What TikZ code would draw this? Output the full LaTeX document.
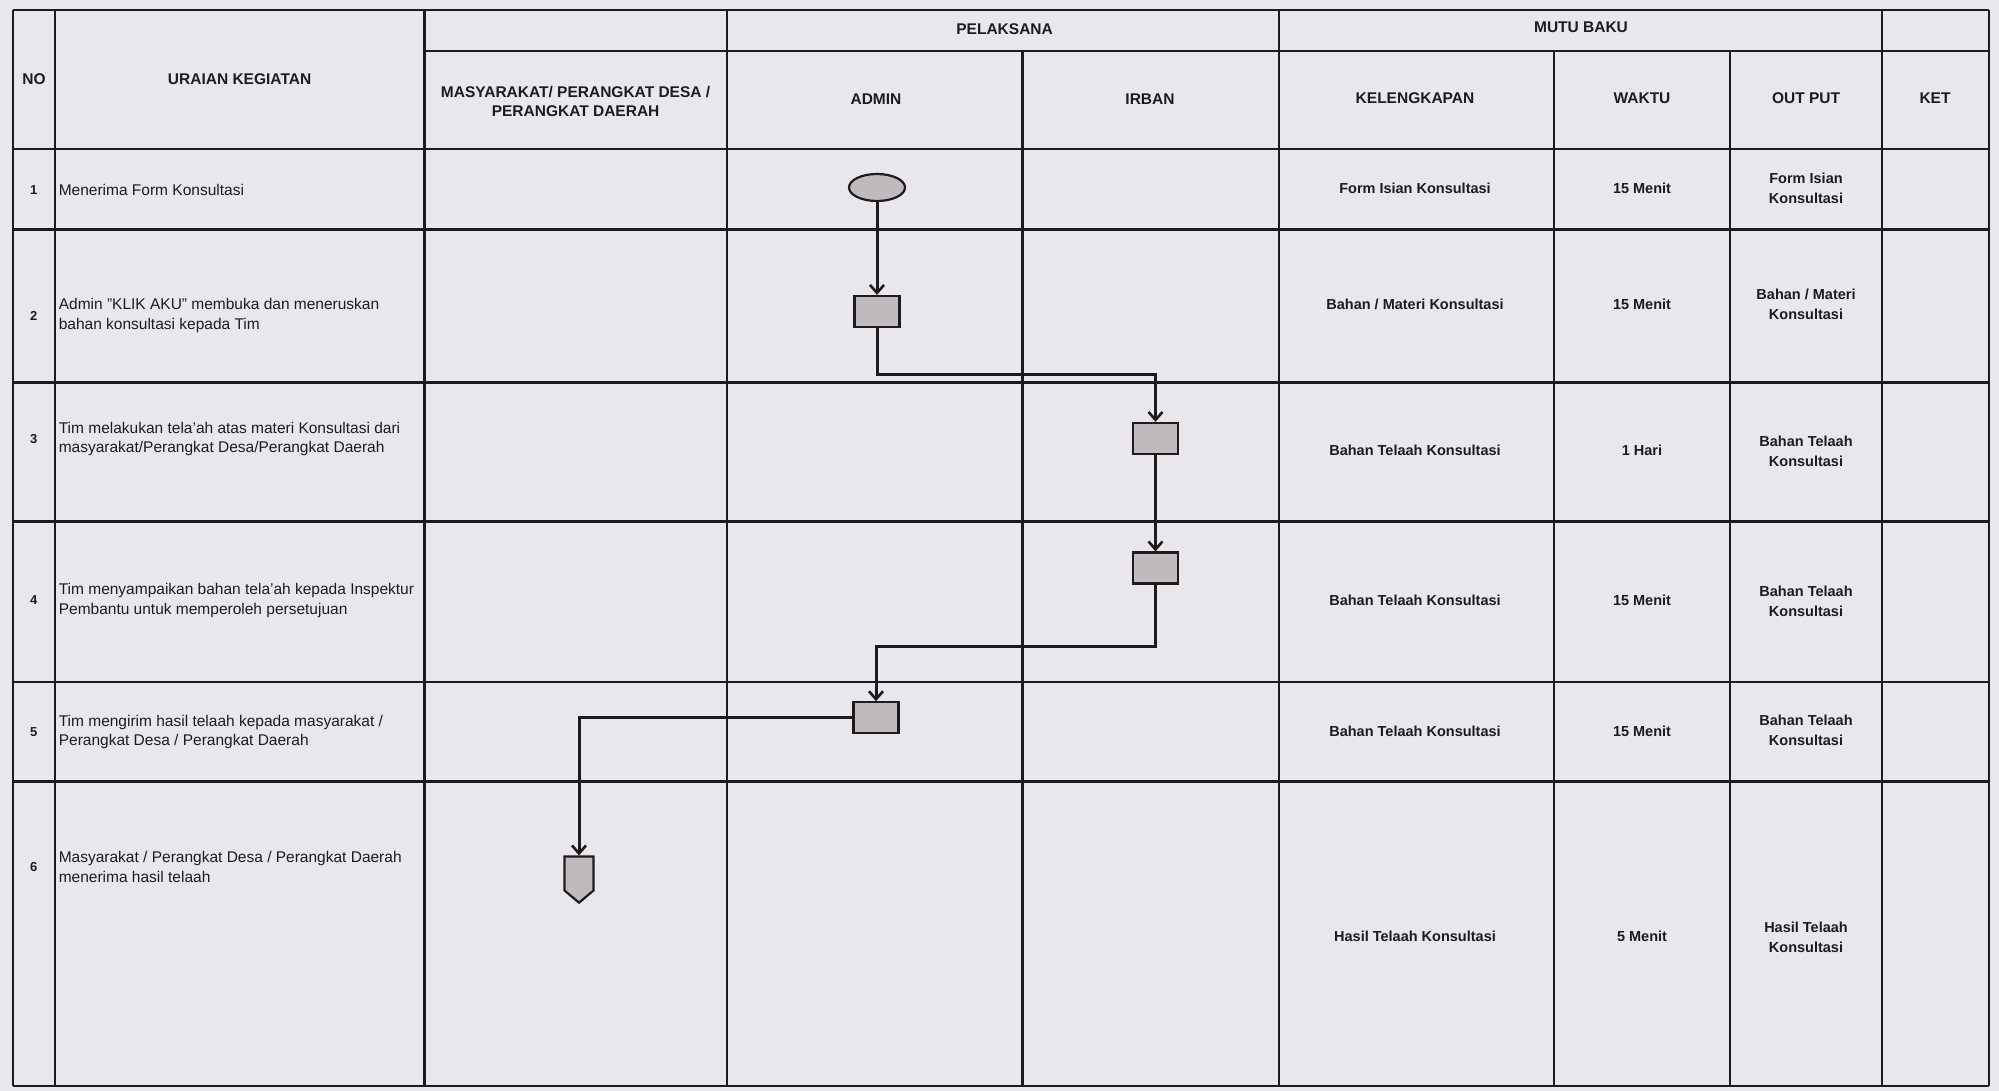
\documentclass[tikz,border=0pt]{standalone}
\usepackage{fontspec}
\setmainfont{Liberation Sans}
\usetikzlibrary{shapes.geometric,shapes.symbols,arrows.meta}
\definecolor{paper}{RGB}{234,231,236}
\definecolor{ink}{RGB}{28,28,30}
\definecolor{shapefill}{RGB}{192,186,190}
\begin{document}
\begin{tikzpicture}[x=1pt,y=-1pt,
  gridline/.style={draw=ink, line width=2.4pt},
  hdr/.style={font=\bfseries\fontsize{15.5}{19}\selectfont, align=center, text=ink, inner sep=0pt},
  val/.style={font=\bfseries\fontsize{14.5}{20}\selectfont, align=center, text=ink, inner sep=0pt},
  desc/.style={font=\fontsize{15.5}{19.5}\selectfont, align=left, anchor=west, text=ink, inner sep=0pt},
  num/.style={font=\bfseries\fontsize{13}{16}\selectfont, text=ink, inner sep=0pt},
  proc/.style={draw=ink, fill=shapefill, line width=2.2pt, minimum width=45pt, minimum height=31pt, inner sep=0pt},
  term/.style={ellipse, draw=ink, fill=shapefill, line width=2.2pt, minimum width=56pt, minimum height=27pt, inner sep=0pt},
  offpage/.style={signal, signal to=south, signal pointer angle=100, draw=ink, fill=shapefill, line width=2.2pt, minimum width=29pt, minimum height=34pt, inner sep=0pt},
  flow/.style={draw=ink, line width=3pt, -{Straight Barb[length=8pt,width=14pt,line width=2.6pt]}}
]
\fill[paper] (0,0) rectangle (1999,1091);
\useasboundingbox (0,0) rectangle (1999,1091);

% grid
\def\cA{12.7}\def\cB{54.8}\def\cC{424.5}\def\cD{726.7}\def\cE{1022.5}
\def\cF{1278.7}\def\cG{1554.1}\def\cH{1730}\def\cI{1881.7}\def\cJ{1988.8}
\def\rA{10.2}\def\rS{51}\def\rB{149.2}\def\rC{229.5}\def\rD{382.5}
\def\rE{521.4}\def\rF{682}\def\rG{781.5}\def\rH{1086.2}
\foreach \x in {\cA,\cB,\cC,\cD,\cF,\cI,\cJ}{\draw[gridline] (\x,\rA) -- (\x,\rH);}
\foreach \x in {\cE,\cG,\cH}{\draw[gridline] (\x,\rS) -- (\x,\rH);}
\draw[gridline] (\cC,\rS) -- (\cJ,\rS);
\foreach \y in {\rA,\rB,\rC,\rD,\rE,\rF,\rG,\rH}{\draw[gridline] (\cA,\y) -- (\cJ,\y);}

% headers
\node[hdr] (hno) at (34,79) {NO};
\node[hdr] (hur) at (239.6,79) {URAIAN KEGIATAN};
\node[hdr] (hpl) at (1004.6,29.5) {PELAKSANA};
\node[hdr] (hmb) at (1581,27.5) {MUTU BAKU};
\node[hdr] (hms) at (575.6,101) {MASYARAKAT/ PERANGKAT DESA /\\PERANGKAT DAERAH};
\node[hdr] (had) at (876,99.4) {ADMIN};
\node[hdr] (hir) at (1150,99.4) {IRBAN};
\node[hdr] (hke) at (1415,98) {KELENGKAPAN};
\node[hdr] (hwa) at (1642,98) {WAKTU};
\node[hdr] (hop) at (1806,98) {OUT PUT};
\node[hdr] (hket) at (1935,98) {KET};

% numbers and descriptions
\node[num] (n1) at (33.7,190) {1};
\node[desc] (d1) at (58.6,190) {Menerima Form Konsultasi};
\node[num] (n2) at (33.7,315.5) {2};
\node[desc] (d2) at (58.6,315.5) {Admin "KLIK AKU" membuka dan meneruskan\\bahan konsultasi kepada Tim};
\node[num] (n3) at (33.7,439) {3};
\node[desc] (d3) at (58.6,439) {Tim melakukan tela'ah atas materi Konsultasi dari\\masyarakat/Perangkat Desa/Perangkat Daerah};
\node[num] (n4) at (33.7,600.5) {4};
\node[desc] (d4) at (58.6,600.5) {Tim menyampaikan bahan tela'ah kepada Inspektur\\Pembantu untuk memperoleh persetujuan};
\node[num] (n5) at (33.7,731.8) {5};
\node[desc] (d5) at (58.6,731.8) {Tim mengirim hasil telaah kepada masyarakat /\\Perangkat Desa / Perangkat Daerah};
\node[num] (n6) at (33.7,867) {6};
\node[desc] (d6) at (58.6,867) {Masyarakat / Perangkat Desa / Perangkat Daerah\\menerima hasil telaah};

% mutu baku values
\node[val] (k1) at (1415,188.7) {Form Isian Konsultasi};
\node[val] (w1) at (1642,188.7) {15 Menit};
\node[val] (o1) at (1806,188.7) {Form Isian\\Konsultasi};
\node[val] (k2) at (1415,304.7) {Bahan / Materi Konsultasi};
\node[val] (w2) at (1642,304.7) {15 Menit};
\node[val] (o2) at (1806,304.7) {Bahan / Materi\\Konsultasi};
\node[val] (k3) at (1415,450) {Bahan Telaah Konsultasi};
\node[val] (w3) at (1642,450) {1 Hari};
\node[val] (o3) at (1806,451) {Bahan Telaah\\Konsultasi};
\node[val] (k4) at (1415,600.5) {Bahan Telaah Konsultasi};
\node[val] (w4) at (1642,600.5) {15 Menit};
\node[val] (o4) at (1806,601.5) {Bahan Telaah\\Konsultasi};
\node[val] (k5) at (1415,731.8) {Bahan Telaah Konsultasi};
\node[val] (w5) at (1642,731.8) {15 Menit};
\node[val] (o5) at (1806,730.5) {Bahan Telaah\\Konsultasi};
\node[val] (k6) at (1415,936) {Hasil Telaah Konsultasi};
\node[val] (w6) at (1642,936) {5 Menit};
\node[val] (o6) at (1806,937) {Hasil Telaah\\Konsultasi};

% flow shapes
\node[term] (t1) at (877,187.5) {};
\node[proc] (p2) at (877,311.5) {};
\node[proc] (p3) at (1155.5,438.5) {};
\node[proc] (p4) at (1155.5,568) {};
\node[proc] (p5) at (876,717.8) {};
\node[offpage] (off) at (579,873.5) {};
\coordinate (k23) at (877,374.8);
\coordinate (k45) at (1155.5,646);

% connectors
\draw[flow] (t1) -- (p2);
\draw[flow] (p2.south) -- (k23) -| (p3.north);
\draw[flow] (p3) -- (p4);
\draw[flow] (p4.south) -- (k45) -| (p5.north);
\draw[flow] (p5.west) -| (off.north);
\end{tikzpicture}
\end{document}
